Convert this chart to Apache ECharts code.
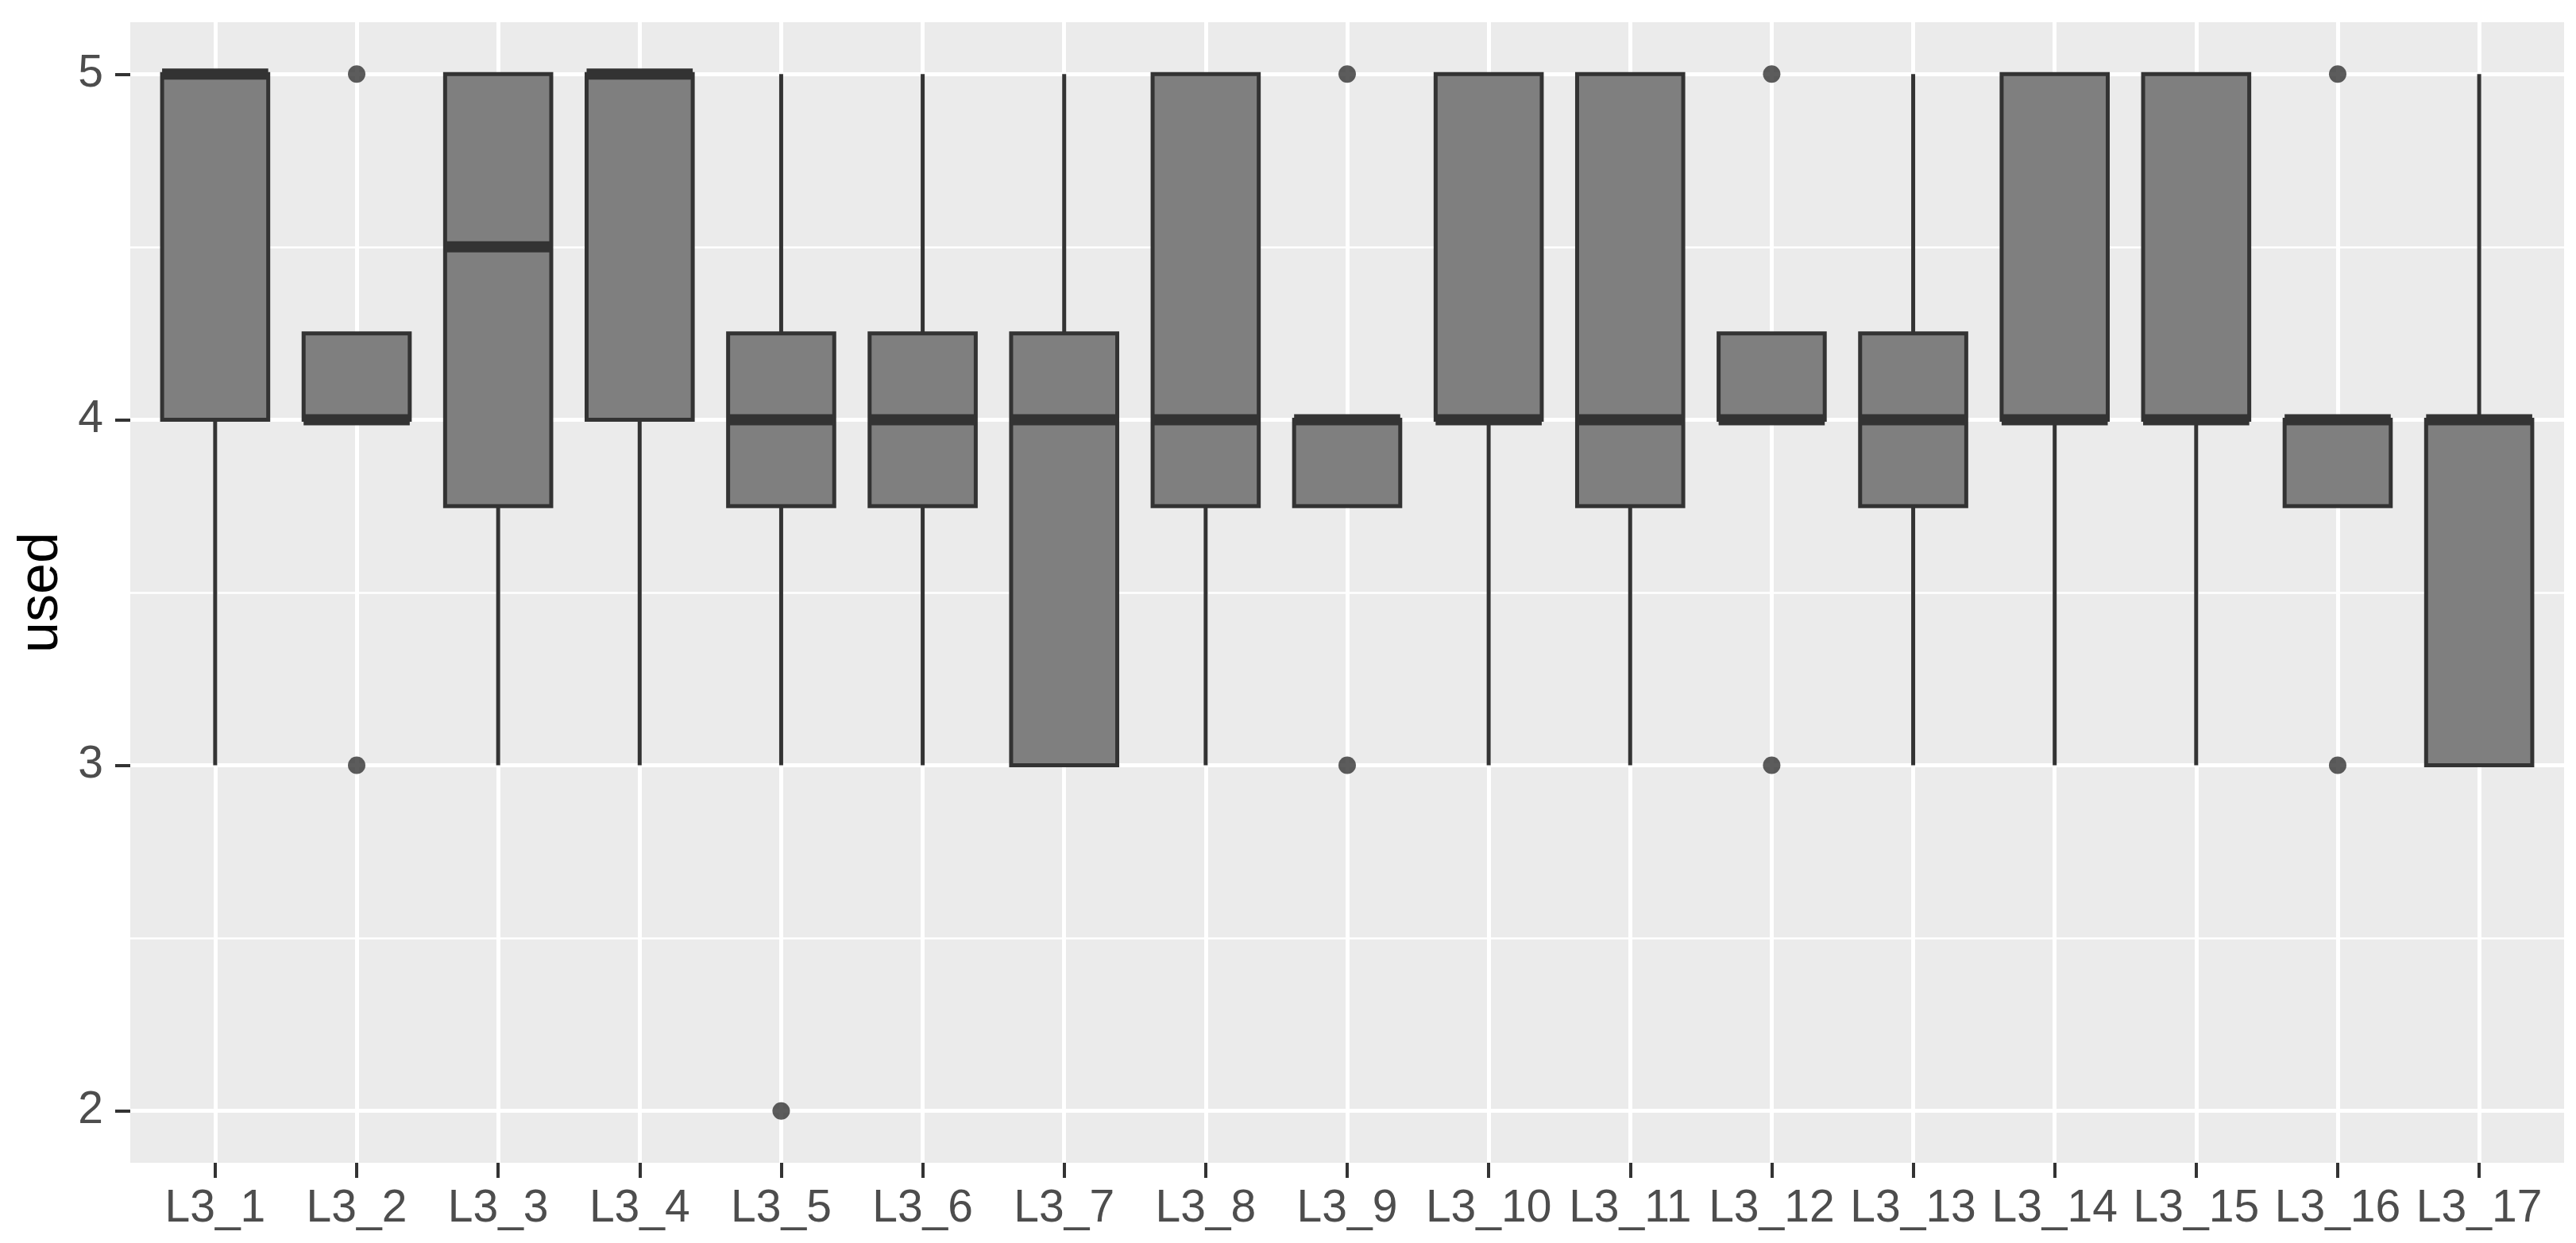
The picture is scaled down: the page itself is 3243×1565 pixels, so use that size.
<!DOCTYPE html>
<html>
<head>
<meta charset="utf-8">
<script src="https://cdn.jsdelivr.net/npm/echarts@6/dist/echarts.min.js"></script>
<style>
html, body { margin: 0; padding: 0; background: #fff; }
#chart { width: 3243px; height: 1565px; }
</style>
</head>
<body>
<div id="chart"></div>
<script>
const categories = ['L3_1','L3_2','L3_3','L3_4','L3_5','L3_6','L3_7','L3_8','L3_9','L3_10','L3_11','L3_12','L3_13','L3_14','L3_15','L3_16','L3_17'];
const lowWhisker  = [3, 4,    3,    3, 3,    3,    3,    3,    3.75, 3, 3,    4,    3,    3, 3, 3.75, 3];
const q1          = [4, 4,    3.75, 4, 3.75, 3.75, 3,    3.75, 3.75, 4, 3.75, 4,    3.75, 4, 4, 3.75, 3];
const median      = [5, 4,    4.5,  5, 4,    4,    4,    4,    4,    4, 4,    4,    4,    4, 4, 4,    4];
const q3          = [5, 4.25, 5,    5, 4.25, 4.25, 4.25, 5,    4,    5, 5,    4.25, 4.25, 5, 5, 4,    4];
const highWhisker = [5, 4.25, 5,    5, 5,    5,    5,    5,    4,    5, 5,    4.25, 5,    5, 5, 4,    5];
const outlierIndex = [1, 1, 4, 8, 8, 11, 11, 15, 15];
const outlierValue = [5, 3, 2, 5, 3, 5,  3,  5,  3];
const yTicks = [2, 3, 4, 5];
const yMinorTicks = [2.5, 3.5, 4.5];

const boxData = categories.map((c, i) => [i, lowWhisker[i], q1[i], median[i], q3[i], highWhisker[i]]);
const outlierData = outlierIndex.map((ci, k) => [ci, outlierValue[k]]);
const xIdx = categories.map((c, i) => i);

const chart = echarts.init(document.getElementById('chart'), null, { renderer: 'canvas' });
const FONT = 'Liberation Sans';
const option = {
  animation: false,
  textStyle: { fontFamily: FONT },
  grid: { left: 164, right: 15, top: 28, bottom: 101, show: true, backgroundColor: '#EBEBEB', borderWidth: 0 },
  xAxis: {
    type: 'value', min: -0.6, max: 16.6, position: 'bottom',
    axisLine: { show: false, onZero: false },
    axisTick: { show: true, length: 19, customValues: xIdx, lineStyle: { color: '#333333', width: 4 } },
    axisLabel: { show: true, customValues: xIdx, margin: 30, fontSize: 57, color: '#4D4D4D', fontFamily: FONT,
      formatter: v => categories[Math.round(v)] },
    splitLine: { show: true, lineStyle: { color: '#FFFFFF', width: 5 } }
  },
  yAxis: [{
    type: 'value', min: 1.85, max: 5.15, position: 'left',
    name: 'used', nameLocation: 'middle', nameGap: 75,
    nameTextStyle: { fontSize: 70, color: '#000000', fontFamily: FONT },
    axisLine: { show: false, onZero: false },
    axisTick: { show: true, length: 19, customValues: yTicks, lineStyle: { color: '#333333', width: 4 } },
    axisLabel: { show: true, customValues: yTicks, margin: 34, fontSize: 57, color: '#4D4D4D', fontFamily: FONT },
    splitLine: { show: true, lineStyle: { color: '#FFFFFF', width: 5 } }
  }, {
    type: 'value', min: 1.85, max: 5.15, position: 'left',
    axisLine: { show: false, onZero: false },
    axisTick: { show: false, customValues: yMinorTicks },
    axisLabel: { show: false, customValues: yMinorTicks },
    splitLine: { show: true, lineStyle: { color: '#FFFFFF', width: 2.5 } }
  }],
  series: [{
    type: 'custom',
    xAxisIndex: 0, yAxisIndex: 0,
    data: boxData,
    encode: { x: 0, y: [1, 2, 3, 4, 5] },
    z: 3,
    renderItem: function (params, api) {
      const xi = api.value(0);
      const pLow = api.coord([xi, api.value(1)]);
      const pQ1 = api.coord([xi, api.value(2)]);
      const pMed = api.coord([xi, api.value(3)]);
      const pQ3 = api.coord([xi, api.value(4)]);
      const pHigh = api.coord([xi, api.value(5)]);
      const hw = api.size([0.75, 0])[0] / 2;
      const cx = pMed[0];
      const st = { stroke: '#333333', lineWidth: 5 };
      return {
        type: 'group',
        children: [
          { type: 'line', shape: { x1: cx, y1: pLow[1], x2: cx, y2: pQ1[1] }, style: st },
          { type: 'line', shape: { x1: cx, y1: pQ3[1], x2: cx, y2: pHigh[1] }, style: st },
          { type: 'rect', shape: { x: cx - hw, y: pQ3[1], width: 2 * hw, height: pQ1[1] - pQ3[1] },
            style: { fill: '#7F7F7F', stroke: '#333333', lineWidth: 5 } },
          { type: 'line', shape: { x1: cx - hw, y1: pMed[1], x2: cx + hw, y2: pMed[1] },
            style: { stroke: '#333333', lineWidth: 14 } }
        ]
      };
    }
  }, {
    type: 'scatter',
    xAxisIndex: 0, yAxisIndex: 0,
    data: outlierData,
    symbol: 'circle', symbolSize: 22,
    itemStyle: { color: '#333333' },
    z: 4
  }]
};
chart.setOption(option);
</script>
</body>
</html>
